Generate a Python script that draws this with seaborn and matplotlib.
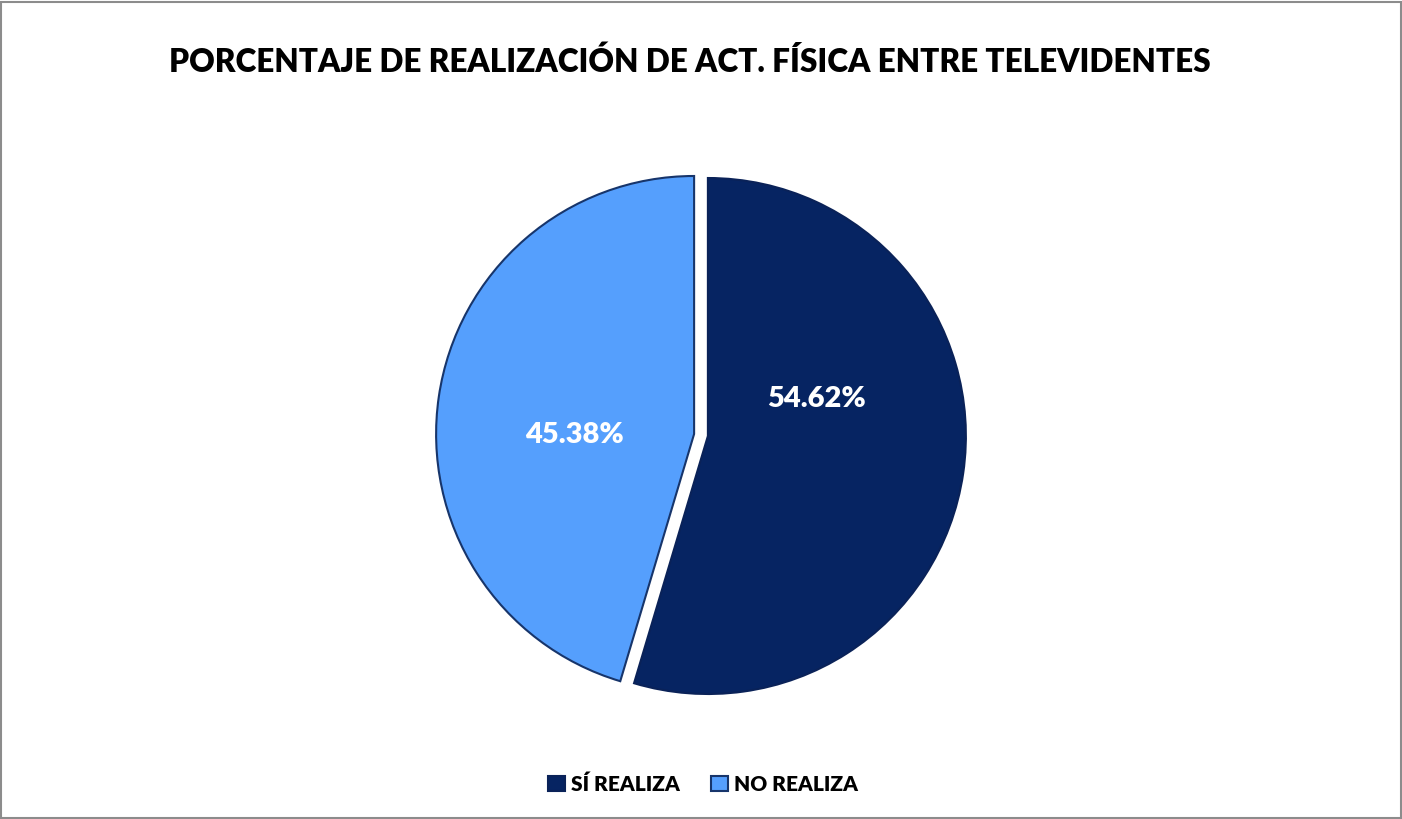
import matplotlib
matplotlib.use("Agg")
import matplotlib.pyplot as plt
import seaborn as sns
from matplotlib.patches import Rectangle

categories = ["SÍ REALIZA", "NO REALIZA"]
values = [54.62, 45.38]
title = "PORCENTAJE DE REALIZACIÓN DE ACT. FÍSICA ENTRE TELEVIDENTES"

sns.set_theme(style="white")
plt.rcParams['font.family'] = ['Lato', 'DejaVu Sans']

colors = ["#062462", "#559FFD"]
edges = ["#0A2258", "#17356B"]

W, H = 1402, 819
fig = plt.figure(figsize=(W / 100, H / 100), dpi=100)
fig.patch.set_facecolor("white")

R = 258
cx, cy = 701, 435
half = 1.1 * R
ax = fig.add_axes([(cx - half) / W, (H - cy - half) / H, 2 * half / W, 2 * half / H])
wedges, texts, autotexts = ax.pie(
    values, colors=colors, startangle=90, counterclock=False,
    explode=[0.027, 0.027], autopct="%.2f%%", pctdistance=0.47,
    wedgeprops=dict(linewidth=1.5), textprops=dict(color="white", fontsize=21, fontweight="heavy"))
for w, e in zip(wedges, edges):
    w.set_edgecolor(e)
# nudge labels to match reference placement
autotexts[0].set_position((autotexts[0].get_position()[0] - 0.045, autotexts[0].get_position()[1] + 0.21))
autotexts[1].set_position((autotexts[1].get_position()[0], autotexts[1].get_position()[1] - 0.07))
ax.set_xlim(-1.1, 1.1)
ax.set_ylim(-1.1, 1.1)
ax.set_aspect("equal")
ax.axis("off")

fig.text(690 / W, 1 - 62 / H, title, ha="center", va="center", fontsize=22.7, fontweight="heavy", color="black")

leg = fig.legend(wedges, categories, loc="center", bbox_to_anchor=(703 / W, 1 - 784 / H), ncol=2,
                 frameon=False, prop=dict(size=15, weight="heavy"), handlelength=0.8, handleheight=0.8,
                 handletextpad=0.3, columnspacing=1.5, labelcolor="black")

fig.add_artist(Rectangle((0.001, 0.001), 0.998, 0.997, transform=fig.transFigure, fill=False,
                         edgecolor="#8C8C8C", linewidth=1.5))

fig.savefig("out.png", dpi=100, facecolor="white")
